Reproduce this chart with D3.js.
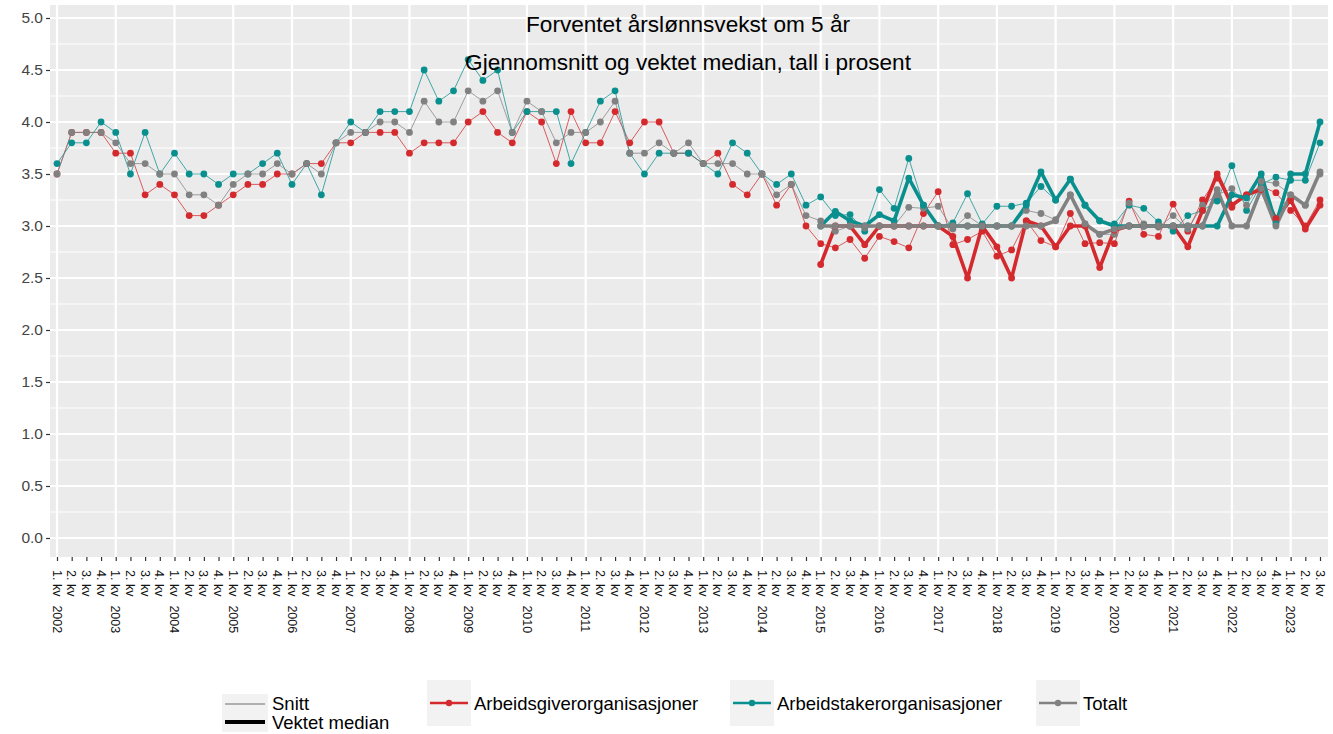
<!DOCTYPE html>
<html>
<head>
<meta charset="utf-8">
<script src="https://cdn.jsdelivr.net/npm/d3@7"></script>
<style>
  body { margin: 0; background: #fff; }
  svg { display: block; font-family: "Liberation Sans", Arial, sans-serif; }
</style>
</head>
<body>
<div id="chart-area"></div>
<script>
// x categories: quarters 1. kv 2002 .. 3. kv 2023
var years = [2002, 2003, 2004, 2005, 2006, 2007, 2008, 2009, 2010, 2011, 2012,
             2013, 2014, 2015, 2016, 2017, 2018, 2019, 2020, 2021, 2022, 2023];
var quarterNames = ["1. kv", "2. kv", "3. kv", "4. kv"];
var nQuarters = 87;
var medianStart = 52; // 1. kv 2015

var yTicks = [0, 0.5, 1, 1.5, 2, 2.5, 3, 3.5, 4, 4.5, 5];

// Snitt (average), one value per quarter
var arbgiverSnitt = [
  3.5, 3.9, 3.9, 3.9, 3.7, 3.7, 3.3, 3.4, 3.3, 3.1,
  3.1, 3.2, 3.3, 3.4, 3.4, 3.5, 3.5, 3.6, 3.6, 3.8,
  3.8, 3.9, 3.9, 3.9, 3.7, 3.8, 3.8, 3.8, 4.0, 4.1,
  3.9, 3.8, 4.1, 4.0, 3.6, 4.1, 3.8, 3.8, 4.1, 3.8,
  4.0, 4.0, 3.7, 3.7, 3.6, 3.7, 3.4, 3.3, 3.5, 3.2,
  3.4, 3.0,
  2.83, 2.79, 2.87, 2.69, 2.9, 2.85, 2.79, 3.12, 3.33, 2.82,
  2.87, 2.95, 2.71, 2.77, 3.05, 2.86, 2.8, 3.12, 2.83, 2.84,
  2.83, 3.24, 2.92, 2.9, 3.21, 2.95, 3.25, 3.46, 3.18, 3.3,
  3.38, 3.32, 3.15, 3.0, 3.25
];
var arbtakerSnitt = [
  3.6, 3.8, 3.8, 4.0, 3.9, 3.5, 3.9, 3.5, 3.7, 3.5,
  3.5, 3.4, 3.5, 3.5, 3.6, 3.7, 3.4, 3.6, 3.3, 3.8,
  4.0, 3.9, 4.1, 4.1, 4.1, 4.5, 4.2, 4.3, 4.6, 4.4,
  4.5, 3.9, 4.1, 4.1, 4.1, 3.6, 3.9, 4.2, 4.3, 3.7,
  3.5, 3.7, 3.7, 3.7, 3.6, 3.5, 3.8, 3.7, 3.5, 3.4,
  3.5, 3.2,
  3.28, 3.1, 3.11, 2.95, 3.35, 3.17, 3.65, 3.2, 3.0, 3.03,
  3.31, 3.02, 3.19, 3.19, 3.22, 3.38, 3.25, 3.45, 3.2, 3.05,
  3.02, 3.2, 3.17, 3.04, 2.95, 3.1, 3.15, 3.24, 3.58, 3.15,
  3.4, 3.47, 3.44, 3.44, 3.8
];
var totaltSnitt = [
  3.5, 3.9, 3.9, 3.9, 3.8, 3.6, 3.6, 3.5, 3.5, 3.3,
  3.3, 3.2, 3.4, 3.5, 3.5, 3.6, 3.5, 3.6, 3.5, 3.8,
  3.9, 3.9, 4.0, 4.0, 3.9, 4.2, 4.0, 4.0, 4.3, 4.2,
  4.3, 3.9, 4.2, 4.1, 3.8, 3.9, 3.9, 4.0, 4.2, 3.7,
  3.7, 3.8, 3.7, 3.8, 3.6, 3.6, 3.6, 3.5, 3.5, 3.3,
  3.4, 3.1,
  3.05, 2.95, 3.0, 2.98, 3.0, 3.0, 3.18, 3.17, 3.19, 2.97,
  3.1, 3.0, 3.0, 3.0, 3.15, 3.12, 3.06, 3.3, 3.02, 2.92,
  2.92, 3.22, 3.02, 2.99, 3.1, 2.97, 3.2, 3.3, 3.36, 3.2,
  3.43, 3.41, 3.3, 3.2, 3.5
];

// Vektet median, from 1. kv 2015
var arbgiverMedian = [
  2.63, 3.0, 3.0, 2.82, 3.0, 3.0, 3.0, 3.0, 3.0, 2.9,
  2.5, 3.0, 2.8, 2.5, 3.05, 3.0, 2.8, 3.0, 3.0, 2.6,
  2.96, 3.0, 3.0, 3.0, 3.0, 2.8, 3.15, 3.5, 3.2, 3.3,
  3.35, 3.07, 3.25, 2.97, 3.2
];
var arbtakerMedian = [
  3.0, 3.14, 3.05, 3.0, 3.11, 3.05, 3.46, 3.2, 3.0, 3.0,
  3.0, 3.0, 3.0, 3.0, 3.2, 3.52, 3.25, 3.45, 3.2, 3.05,
  3.0, 3.0, 3.0, 3.0, 3.0, 3.0, 3.0, 3.0, 3.3, 3.27,
  3.5, 3.02, 3.5, 3.5, 4.0
];
var totaltMedian = [
  3.0, 3.0, 3.0, 3.0, 3.0, 3.0, 3.0, 3.0, 3.0, 3.0,
  3.0, 3.0, 3.0, 3.0, 3.0, 3.0, 3.05, 3.3, 3.02, 2.92,
  2.97, 3.0, 3.0, 3.0, 3.0, 3.0, 3.0, 3.35, 3.0, 3.0,
  3.36, 3.0, 3.3, 3.2, 3.52
];

var seriesNames = ["Arbeidsgiverorganisasjoner", "Arbeidstakerorganisasjoner", "Totalt"];
var seriesColors = ["#d42a2e", "#0a8f8f", "#818181"];

// build quarter keys and labels
var keys = [], labels = [];
years.forEach(function(y){
    quarterNames.forEach(function(q, qi){
        if (keys.length < nQuarters){
            keys.push(y + "Q" + (qi + 1));
            labels.push(qi == 0 ? [q, String(y)] : [q]);
        }
    });
});

var width = 1333, height = 734;
var svg = d3.select("#chart-area").append("svg")
    .attr("width", width)
    .attr("height", height);

var x = d3.scalePoint().domain(keys).range([57, 1320]);
var y = d3.scaleLinear().domain([0, 5]).range([538, 18]);

var panelLeft = 50, panelRight = 1328, panelTop = 5, panelBottom = 557;

svg.append("rect")
    .attr("x", panelLeft).attr("y", panelTop)
    .attr("width", panelRight - panelLeft).attr("height", panelBottom - panelTop)
    .attr("fill", "#ebebeb");

// minor horizontal gridlines
svg.selectAll(".minor").data(yTicks.slice(0, -1).map(function(d){ return d + 0.25; }))
    .enter().append("line")
    .attr("x1", panelLeft).attr("x2", panelRight)
    .attr("y1", function(d){ return y(d); }).attr("y2", function(d){ return y(d); })
    .attr("stroke", "#fff").attr("stroke-width", 1.1);

svg.selectAll(".major").data(yTicks)
    .enter().append("line")
    .attr("x1", panelLeft).attr("x2", panelRight)
    .attr("y1", function(d){ return y(d); }).attr("y2", function(d){ return y(d); })
    .attr("stroke", "#fff").attr("stroke-width", 2.2);

// vertical gridlines at each year
var yearKeys = keys.filter(function(k){ return k.slice(-2) == "Q1"; });
svg.selectAll(".vgrid").data(yearKeys)
    .enter().append("line")
    .attr("x1", function(d){ return x(d); }).attr("x2", function(d){ return x(d); })
    .attr("y1", panelTop).attr("y2", panelBottom)
    .attr("stroke", "#fff").attr("stroke-width", 2.2);

// y axis
var yAxis = svg.append("g")
    .attr("transform", "translate(" + panelLeft + ",0)")
    .call(d3.axisLeft(y).tickValues(yTicks).tickFormat(d3.format(".1f")).tickSize(4).tickPadding(3));
yAxis.select(".domain").remove();
yAxis.selectAll("line").attr("stroke", "#333").attr("stroke-width", 1.2);
yAxis.selectAll("text").attr("font-size", 15.5).attr("fill", "#444")
    .attr("font-family", "Liberation Sans, Arial, sans-serif");

// x axis
var xAxis = svg.append("g")
    .attr("transform", "translate(0," + panelBottom + ")")
    .call(d3.axisBottom(x).tickSize(4).tickFormat(""));
xAxis.select(".domain").remove();
xAxis.selectAll("line").attr("stroke", "#333").attr("stroke-width", 1.2);

var xl = svg.append("g").selectAll("text").data(keys).enter().append("text")
    .attr("transform", function(d){ return "translate(" + x(d) + "," + (panelBottom + 13) + ") rotate(90)"; })
    .attr("dy", "0.35em")
    .attr("font-size", 12.5)
    .attr("fill", "#111");
xl.each(function(d, i){
    var t = d3.select(this);
    t.append("tspan").text(labels[i][0]);
    if (labels[i].length > 1){
        t.append("tspan").attr("dx", 9).text(labels[i][1]);
    }
});

// series
var snitt = [arbgiverSnitt, arbtakerSnitt, totaltSnitt];
var medians = [arbgiverMedian, arbtakerMedian, totaltMedian];

var snittLine = d3.line()
    .x(function(d, i){ return x(keys[i]); })
    .y(function(d){ return y(d); });
var medianLine = d3.line()
    .x(function(d, i){ return x(keys[i + medianStart]); })
    .y(function(d){ return y(d); });

var plot = svg.append("g");

snitt.forEach(function(vals, s){
    plot.append("path").datum(vals)
        .attr("d", snittLine)
        .attr("fill", "none")
        .attr("stroke", seriesColors[s])
        .attr("stroke-opacity", 0.75)
        .attr("stroke-width", 1);
});
medians.forEach(function(vals, s){
    plot.append("path").datum(vals)
        .attr("d", medianLine)
        .attr("fill", "none")
        .attr("stroke", seriesColors[s])
        .attr("stroke-width", 3.6)
        .attr("stroke-linejoin", "round");
});
snitt.forEach(function(vals, s){
    plot.append("g").selectAll("circle").data(vals).enter().append("circle")
        .attr("cx", function(d, i){ return x(keys[i]); })
        .attr("cy", function(d){ return y(d); })
        .attr("r", 3.4)
        .attr("fill", seriesColors[s]);
});
medians.forEach(function(vals, s){
    plot.append("g").selectAll("circle").data(vals).enter().append("circle")
        .attr("cx", function(d, i){ return x(keys[i + medianStart]); })
        .attr("cy", function(d){ return y(d); })
        .attr("r", 3.4)
        .attr("fill", seriesColors[s]);
});

// titles
svg.append("text").attr("x", 688).attr("y", 32)
    .attr("text-anchor", "middle").attr("font-size", 22.6).attr("fill", "#000")
    .text("Forventet årslønnsvekst om 5 år");
svg.append("text").attr("x", 688).attr("y", 70)
    .attr("text-anchor", "middle").attr("font-size", 22.6).attr("fill", "#000")
    .text("Gjennomsnitt og vektet median, tall i prosent");

// legend: line type
var lg = svg.append("g");
lg.append("rect").attr("x", 222).attr("y", 694).attr("width", 46).attr("height", 38).attr("fill", "#f2f2f2");
lg.append("line").attr("x1", 225).attr("x2", 265).attr("y1", 704).attr("y2", 704)
    .attr("stroke", "#999").attr("stroke-width", 1.6);
lg.append("line").attr("x1", 225).attr("x2", 265).attr("y1", 722).attr("y2", 722)
    .attr("stroke", "#000").attr("stroke-width", 4);
lg.append("text").attr("x", 272).attr("y", 710).attr("font-size", 18.5).text("Snitt");
lg.append("text").attr("x", 272).attr("y", 729).attr("font-size", 18.5).text("Vektet median");

// legend: series
var keyX = [427, 730, 1036];
seriesNames.forEach(function(name, s){
    var g = svg.append("g").attr("transform", "translate(" + keyX[s] + ",680)");
    g.append("rect").attr("width", 44).attr("height", 46).attr("fill", "#f2f2f2");
    g.append("line").attr("x1", 3).attr("x2", 41).attr("y1", 23).attr("y2", 23)
        .attr("stroke", seriesColors[s]).attr("stroke-width", 2.6);
    g.append("circle").attr("cx", 22).attr("cy", 23).attr("r", 3.2).attr("fill", seriesColors[s]);
    g.append("text").attr("x", 47).attr("y", 29.5).attr("font-size", 18.5).text(name);
});
</script>
</body>
</html>
